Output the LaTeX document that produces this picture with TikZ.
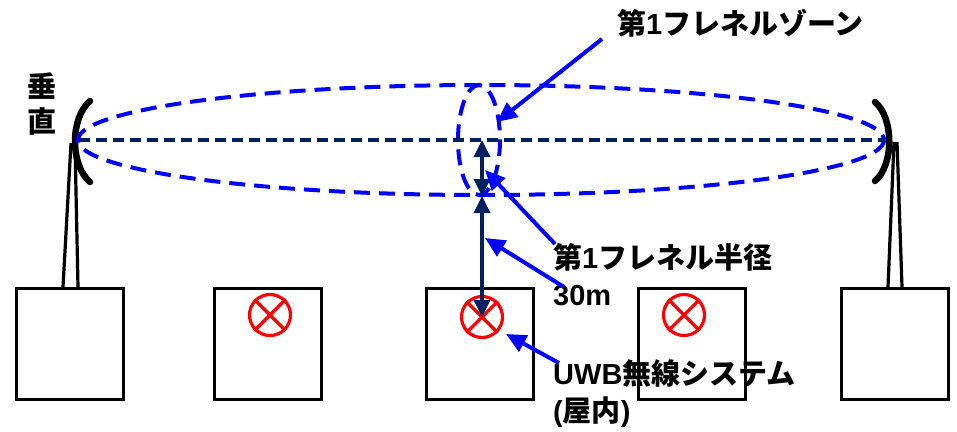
\documentclass[tikz,border=0pt]{standalone}
\usepackage{fontspec}
\setmainfont{Liberation Sans}
\newfontfamily\jp{Noto Sans CJK JP}
\usetikzlibrary{arrows.meta}
\definecolor{navy}{RGB}{0,32,96}
\definecolor{pblue}{RGB}{0,0,255}
\definecolor{pred}{RGB}{255,0,0}
\begin{document}
\begin{tikzpicture}[x=1pt,y=-1pt,
  house/.style={draw=black,line width=3.5pt,minimum width=107pt,minimum height=111pt,inner sep=0pt},
  uwb/.style={circle,draw=pred,line width=3.2pt,minimum size=41pt,inner sep=0pt},
  dish/.style={line width=6.5pt,line cap=round},
  leg/.style={line width=3.2pt},
  zone/.style={draw=pblue,line width=4pt,dash pattern=on 16pt off 9pt},
  axis/.style={draw=navy,line width=4pt,dash pattern=on 11pt off 6pt},
  dim/.style={draw=navy,line width=3.5pt,{Triangle[width=16pt,length=17pt]}-{Triangle[width=16pt,length=17pt]}},
  callout/.style={draw=pblue,line width=4pt,-{Triangle[width=18pt,length=20pt]}},
  lbl/.style={font=\fontsize{29}{37}\selectfont\bfseries,inner sep=0pt,align=left}
]
\useasboundingbox (0,0) rectangle (957,431);
% houses
\node[house] (h1) at (70,344) {};
\node[house] (h2) at (268,344) {};
\node[house] (h3) at (480,344) {};
\node[house] (h4) at (692,344) {};
\node[house] (h5) at (895,344) {};
% UWB symbols
\foreach \n/\x/\y in {u2/270/315, u3/482/317, u4/684/315}{
  \node[uwb] (\n) at (\x,\y) {};
  \draw[pred,line width=3.2pt] (\n.45) -- (\n.225) (\n.135) -- (\n.315);
}
% antennas
\draw[leg] (71,143) -- (63,287) (75,143) -- (78,287);
\draw[leg] (894,142) -- (888,287) (897,142) -- (902,287);
\draw[dish] (90,101) .. controls (70,118) and (70,165) .. (90,182);
\draw[dish] (875,102) .. controls (894,118) and (894,165) .. (875,181);
% Fresnel zone
\path[zone] (481,140) ellipse [x radius=403, y radius=55];
\path[zone] (479,140) ellipse [x radius=21, y radius=55];
\coordinate (lp) at (79,140);
\coordinate (rp) at (884,140);
\path[axis] (lp) -- (rp);
% radius arrows
\coordinate (c0) at (482,140);
\coordinate (c1) at (482,196);
\draw[dim] (c0) -- (c1);
\draw[dim] (c1) -- (u3.center);
% labels
\node[lbl,anchor=west] (t1) at (617,23) {{\jp 第}1{\jp フレネルゾーン}};
\node[lbl,anchor=north west] (t2) at (553,243) {{\jp 第}1{\jp フレネル半径}\\30m};
\node[lbl,anchor=north west] (t3) at (553,359) {UWB{\jp 無線システム}\\({\jp 屋内})};
\node[lbl,anchor=center,align=center,font=\fontsize{29}{35}\selectfont\bfseries\jp] (t4) at (42,104) {垂\\直};
% callouts
\coordinate (a1) at (602,39);
\coordinate (a2) at (555,244);
\coordinate (a3) at (564,287);
\coordinate (a4) at (559,363);
\draw[callout] (a1) -- (497,122);
\draw[callout] (a2) -- (485,170);
\draw[callout] (a3) -- (485,238);
\draw[callout] (a4) -- (506,334);
\end{tikzpicture}
\end{document}
